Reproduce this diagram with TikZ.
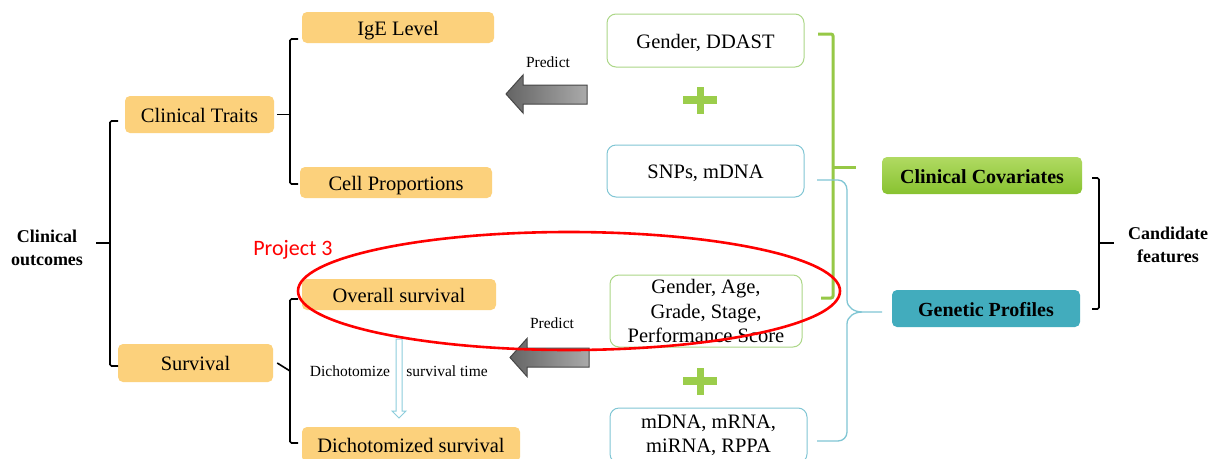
\documentclass[tikz,border=0pt]{standalone}
\usepackage{fontspec}
\setmainfont{Liberation Serif}
\newfontfamily\projfont{Carlito}
\definecolor{ofill}{RGB}{252,209,124}
\definecolor{gline}{RGB}{172,215,135}
\definecolor{tline}{RGB}{128,198,212}
\definecolor{gbrk}{RGB}{150,200,70}
\definecolor{plusg}{RGB}{155,205,75}
\definecolor{ccTop}{RGB}{176,218,98}
\definecolor{ccBot}{RGB}{136,194,48}
\definecolor{gpfill}{RGB}{66,172,189}
\definecolor{arrdark}{RGB}{100,100,100}
\definecolor{arrlight}{RGB}{170,170,170}
\definecolor{arredge}{RGB}{70,70,70}
\definecolor{dicharrow}{RGB}{140,205,220}
\begin{document}
\begin{tikzpicture}[x=1pt,y=-1pt,
  txt/.style={font=\fontsize{20.5}{24.5}\selectfont, align=center, inner sep=0pt},
  oneline/.style={text height=15pt, text depth=0pt},
  small/.style={font=\fontsize{15.5}{18}\selectfont, inner sep=0pt},
  bold/.style={font=\fontsize{18}{23}\selectfont\bfseries, align=center, inner sep=0pt},
  groupbox/.style={font=\fontsize{20}{24}\selectfont\bfseries, inner sep=0pt, oneline, rounded corners=5pt},
  obox/.style={txt, rounded corners=5pt, fill=ofill},
  gbox/.style={txt, rounded corners=9pt, draw=gline, line width=1pt, fill=white},
  tbox/.style={txt, rounded corners=9pt, draw=tline, line width=1pt, fill=white},
  brk/.style={draw=black, line width=1.6pt, rounded corners=1.5pt},
  gbr/.style={draw=gbrk, line width=3pt, rounded corners=2pt},
  tbr/.style={draw=tline, line width=1.3pt},
  predarrow/.style={draw=arredge, line width=1pt, left color=arrdark, right color=arrlight},
  dich/.style={draw=dicharrow, line width=1pt, fill=white}
]
\useasboundingbox (0,0) rectangle (1214,458);
\fill[white] (0,0) rectangle (1214,458);

% outcome side
\node[bold] (co) at (47,247.5) {Clinical\\outcomes};
\node[obox, oneline, minimum width=149pt, minimum height=37pt] (ctraits) at (199.5,114.5) {Clinical Traits};
\node[obox, oneline, minimum width=155pt, minimum height=38pt] (surv) at (195.5,363) {Survival};
\node[obox, oneline, minimum width=192pt, minimum height=31pt] (ige) at (398,27.5) {IgE Level};
\node[obox, oneline, minimum width=192pt, minimum height=31pt] (cellp) at (396,182.5) {Cell Proportions};
\node[obox, oneline, minimum width=194pt, minimum height=31pt] (os) at (399,294.5) {Overall survival};
\node[obox, oneline, minimum width=218pt, minimum height=35pt] (dich) at (411,444.5) {Dichotomized survival};

% brackets on the outcome side
\coordinate (lbtop) at (110,121);
\coordinate (lbbot) at (110,366);
\draw[brk] (96,243) -- (110,243);
\draw[brk] (118,121) -- (lbtop) -- (lbbot) -- (118,366);
\draw[brk] ([xshift=3pt]ctraits.east) -- (290,114.5);
\draw[brk] (298,39) -- (290,39) -- (290,184) -- (298,184);
\draw[brk] ([xshift=4pt]surv.east) -- (290,371);
\draw[brk] (298,299) -- (290,299) -- (290,443) -- (298,443);

% dichotomize arrow
\draw[dich] (396,339) -- (402,339) -- (402,411) -- (406,411) -- (399,418) -- (392,411) -- (396,411) -- cycle;
\node[small] (dtxt1) at (350,371) {Dichotomize};
\node[small] (dtxt2) at (447,371) {survival time};

% feature boxes
\node[gbox, oneline, minimum width=197pt, minimum height=53pt] (gd) at (705.5,40.5) {Gender, DDAST};
\node[tbox, oneline, minimum width=197pt, minimum height=52pt] (snp) at (705.5,171) {SNPs, mDNA};
\node[gbox, minimum width=192pt, minimum height=72pt] (gags) at (706,311) {Gender, Age,\\Grade, Stage,\\Performance Score};
\node[tbox, minimum width=197pt, minimum height=55pt] (mdna) at (708.5,435.5) {mDNA, mRNA,\\miRNA, RPPA};

% plus signs
\foreach \cx/\cy/\nm in {700/100/plusA, 700/381/plusB}{
  \coordinate (\nm) at (\cx,\cy);
  \fill[plusg] ([xshift=-17pt,yshift=-4pt]\nm) rectangle ([xshift=17pt,yshift=4pt]\nm);
  \fill[plusg] ([xshift=-3.5pt,yshift=-13.5pt]\nm) rectangle ([xshift=3.5pt,yshift=13.5pt]\nm);
}

% predict arrows
\path[predarrow] (506,94) -- (523,75) -- (523,85) -- (587,85) -- (587,104) -- (523,104) -- (523,113) -- cycle;
\node[small] (pred1) at (548,62) {Predict};
\path[predarrow] (510,357.5) -- (527,338.5) -- (527,348) -- (589,348) -- (589,367) -- (527,367) -- (527,376.5) -- cycle;
\node[small] (pred2) at (552,323) {Predict};

% feature groups
\node[groupbox, top color=ccTop, bottom color=ccBot, minimum width=200pt, minimum height=37pt] (cc) at (982,175.5) {Clinical Covariates};
\node[groupbox, fill=gpfill, minimum width=188pt, minimum height=37pt] (gp) at (986,308.5) {Genetic Profiles};
\node[bold] (cand) at (1168,245) {Candidate\\features};

% green bracket for clinical covariates
\draw[gbr] (818,34) -- (833,34) -- (833,298) -- (821,298);
\draw[gbr] (833,167) -- (856,167);

% teal brace for genetic profiles
\draw[tbr] (817,180) -- (838,180) to[out=0,in=90] (847,190) -- (847,300)
  to[out=-90,in=180] (862,312) -- (882,312);
\draw[tbr] (862,312) to[out=180,in=90] (847,324) -- (847,432)
  to[out=-90,in=0] (838,441) -- (817,441);

% black bracket for candidate features
\draw[brk] (1092,178) -- (1099,178) -- (1099,309) -- (1092,309);
\draw[brk] (1099,243) -- (1114,243);

% project highlight
\node[text=red, font=\projfont\fontsize{22}{26}\selectfont, inner sep=0pt] (proj) at (293,250) {Project 3};
\draw[red, line width=2.6pt] (569,291) ellipse [x radius=271pt, y radius=59pt];
\end{tikzpicture}
\end{document}
